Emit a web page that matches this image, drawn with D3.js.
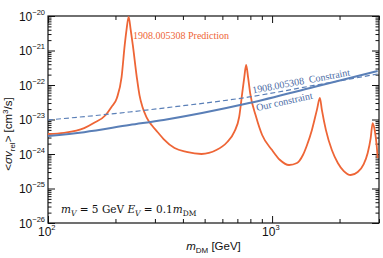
<!DOCTYPE html>
<html>
<head>
<meta charset="utf-8">
<script src="https://cdn.jsdelivr.net/npm/d3@7"></script>
<style>
  body { margin: 0; background: #fff; }
  svg text { font-family: "Liberation Sans", Arial, sans-serif; fill: #111; }
  svg .serif { font-family: "Liberation Serif", "Times New Roman", serif; }
  svg .cm { font-family: "DejaVu Serif", serif; }
  .axis path { display: none; }
  .axis line { stroke: #111; stroke-width: 1; }
</style>
</head>
<body>
<svg id="chart" width="383" height="258"></svg>
<script>
'use strict';

// 1908.005308 prediction (orange)
var predMass = [100,118,145,160,181,192,203,213,220,224,229,234,239,249,256,264,275,290,308,328,367,
  415,484,564,631,678,713,736,751,766,782,798,849,903,1000,1085,1190,1292,1373,1431,1506,
  1585,1634,1668,1738,1848,1965,2089,2244,2411,2564,2671,2754,2811,2869,2929,2959];
var predSigma = [3.8e-24,4.1e-24,5.6e-24,7.9e-24,1.35e-23,2.3e-23,4.2e-23,1.7e-22,1.45e-21,3.9e-21,
  9.4e-21,3.9e-21,1.45e-21,1.7e-22,5.1e-23,2.3e-23,1.18e-23,6.9e-24,4.35e-24,2.72e-24,1.49e-24,
  1.15e-24,1.0e-24,1.3e-24,2.23e-24,4.35e-24,1.18e-23,5.9e-23,1.6e-22,3.8e-22,1.6e-22,
  5.9e-23,1.18e-23,3.55e-24,1.3e-24,6.7e-25,4.8e-25,5.5e-25,9.35e-25,1.8e-24,5.0e-24,
  1.9e-23,4.2e-23,1.9e-23,5.0e-24,1.3e-24,5.5e-25,3.2e-25,2.46e-25,3.0e-25,5.1e-25,
  1.07e-24,2.9e-24,7.9e-24,5.0e-24,1.8e-24,7.6e-25];

// our constraint (solid blue)
var ourMass  = [100, 145, 231, 328, 790, 1537, 2959];
var ourSigma = [3.3e-24, 4.3e-24, 6.9e-24, 9.7e-24, 3.0e-23, 8.75e-23, 2.55e-22];

// 1908.005308 constraint (dashed blue)
var refMass  = [100, 231, 328, 790, 1537, 2959];
var refSigma = [9.7e-24, 1.65e-23, 2.15e-23, 4.5e-23, 9.7e-23, 2.08e-22];

// ticks
var xMajor = [100, 1000];
var xMajorExp = ['2', '3'];
var xMinor = [200,300,400,500,600,700,800,900,2000,3000];
var yMajorExp = [-26, -25, -24, -23, -22, -21, -20];

var pl = 48, pr = 379, pt = 16, pb = 223;
var orange = '#ee6536', blue = '#5a7fb7', blueText = '#4b6ca6';

var svg = d3.select('#chart');

var x = d3.scaleLog().domain([100, 3000]).range([pl, pr]);
var y = d3.scaleLog().domain([1e-26, 1e-20]).range([pb, pt]);

var yMajor = yMajorExp.map(function(e) { return Math.pow(10, e); });
var yMinor = [];
yMajorExp.slice(0, -1).forEach(function(e) {
  for (var k = 2; k < 10; k++) yMinor.push(k * Math.pow(10, e));
});

// tick marks, inward on all four sides
function ticks(axisFn, vals, size, tx, ty) {
  svg.append('g').attr('class', 'axis')
    .attr('transform', 'translate(' + tx + ',' + ty + ')')
    .call(axisFn.tickValues(vals).tickSize(size).tickFormat(''));
}
ticks(d3.axisBottom(x), xMajor, -7, 0, pb);
ticks(d3.axisBottom(x), xMinor, -4, 0, pb);
ticks(d3.axisTop(x), xMajor, -7, 0, pt);
ticks(d3.axisTop(x), xMinor, -4, 0, pt);
ticks(d3.axisLeft(y), yMajor, -7, pl, 0);
ticks(d3.axisLeft(y), yMinor, -3.5, pl, 0);
ticks(d3.axisRight(y), yMajor, -7, pr, 0);
ticks(d3.axisRight(y), yMinor, -3.5, pr, 0);

svg.append('rect')
  .attr('x', pl).attr('y', pt)
  .attr('width', pr - pl).attr('height', pb - pt)
  .attr('fill', 'none').attr('stroke', '#111').attr('stroke-width', 1.2);

// tick labels
yMajorExp.forEach(function(e) {
  var t = svg.append('text')
    .attr('x', 45).attr('y', y(Math.pow(10, e)) + 4.5)
    .attr('text-anchor', 'end').style('font-size', '12px');
  t.append('tspan').text('10');
  t.append('tspan').attr('dy', -6).style('font-size', '7.5px').text('\u2212' + (-e));
});
xMajor.forEach(function(v, i) {
  var t = svg.append('text')
    .attr('x', x(v) - 10).attr('y', 236)
    .style('font-size', '12px');
  t.append('tspan').text('10');
  t.append('tspan').attr('dy', -6).style('font-size', '7.5px').text(xMajorExp[i]);
});

// axis titles
var xt = svg.append('text')
  .attr('x', (pl + pr) / 2).attr('y', 250)
  .attr('text-anchor', 'middle').style('font-size', '11.5px');
xt.append('tspan').style('font-style', 'italic').text('m');
xt.append('tspan').attr('dy', 2.5).style('font-size', '8px').text('DM');
xt.append('tspan').attr('dy', -2.5).text(' [GeV]');

var yt = svg.append('text')
  .attr('transform', 'translate(12,134) rotate(-90)')
  .attr('text-anchor', 'middle').style('font-size', '11.5px');
yt.append('tspan').text('<');
yt.append('tspan').style('font-style', 'italic').text('\u03c3v');
yt.append('tspan').attr('dy', 2.5).style('font-size', '8px').text('rel');
yt.append('tspan').attr('dy', -2.5).text('> [cm');
yt.append('tspan').attr('dy', -4.5).style('font-size', '8px').text('3');
yt.append('tspan').attr('dy', 4.5).text('/s]');

// curves
svg.append('clipPath').attr('id', 'plotclip')
  .append('rect').attr('x', pl).attr('y', pt)
  .attr('width', pr - pl).attr('height', pb - pt);

var line = d3.line()
  .x(function(d) { return x(d[0]); })
  .y(function(d) { return y(d[1]); })
  .curve(d3.curveMonotoneX);

var plot = svg.append('g').attr('clip-path', 'url(#plotclip)');

plot.append('path')
  .datum(d3.zip(predMass, predSigma))
  .attr('d', line)
  .attr('fill', 'none').attr('stroke', orange).attr('stroke-width', 1.8);

plot.append('path')
  .datum(d3.zip(refMass, refSigma))
  .attr('d', line)
  .attr('fill', 'none').attr('stroke', blue).attr('stroke-width', 1.2)
  .attr('stroke-dasharray', '5,3');

plot.append('path')
  .datum(d3.zip(ourMass, ourSigma))
  .attr('d', line)
  .attr('fill', 'none').attr('stroke', blue).attr('stroke-width', 2);

// annotations
svg.append('text').attr('class', 'serif')
  .attr('x', 133).attr('y', 39)
  .style('font-size', '10px').style('fill', orange)
  .text('1908.005308 Prediction');

svg.append('text').attr('class', 'serif')
  .attr('transform', 'translate(253,93.5) rotate(-10.5)')
  .style('font-size', '10px').style('fill', blueText)
  .style('white-space', 'pre')
  .text('1908.005308  Constraint');

svg.append('text').attr('class', 'serif')
  .attr('transform', 'translate(257,111) rotate(-12.5)')
  .style('font-size', '10px').style('fill', blueText)
  .text('Our constraint');

var note = svg.append('text').attr('class', 'cm')
  .attr('x', 61).attr('y', 213).style('font-size', '10.5px')
  .style('white-space', 'pre');
note.append('tspan').style('font-style', 'italic').text('m');
note.append('tspan').attr('dy', 2.5).style('font-size', '7.5px').style('font-style', 'italic').text('V');
note.append('tspan').attr('dy', -2.5).text(' = 5 GeV ');
note.append('tspan').style('font-style', 'italic').text('E');
note.append('tspan').attr('dy', 2.5).style('font-size', '7.5px').style('font-style', 'italic').text('V');
note.append('tspan').attr('dy', -2.5).text(' = 0.1');
note.append('tspan').style('font-style', 'italic').text('m');
note.append('tspan').attr('dy', 2.5).style('font-size', '7.5px').text('DM');
</script>
</body>
</html>
